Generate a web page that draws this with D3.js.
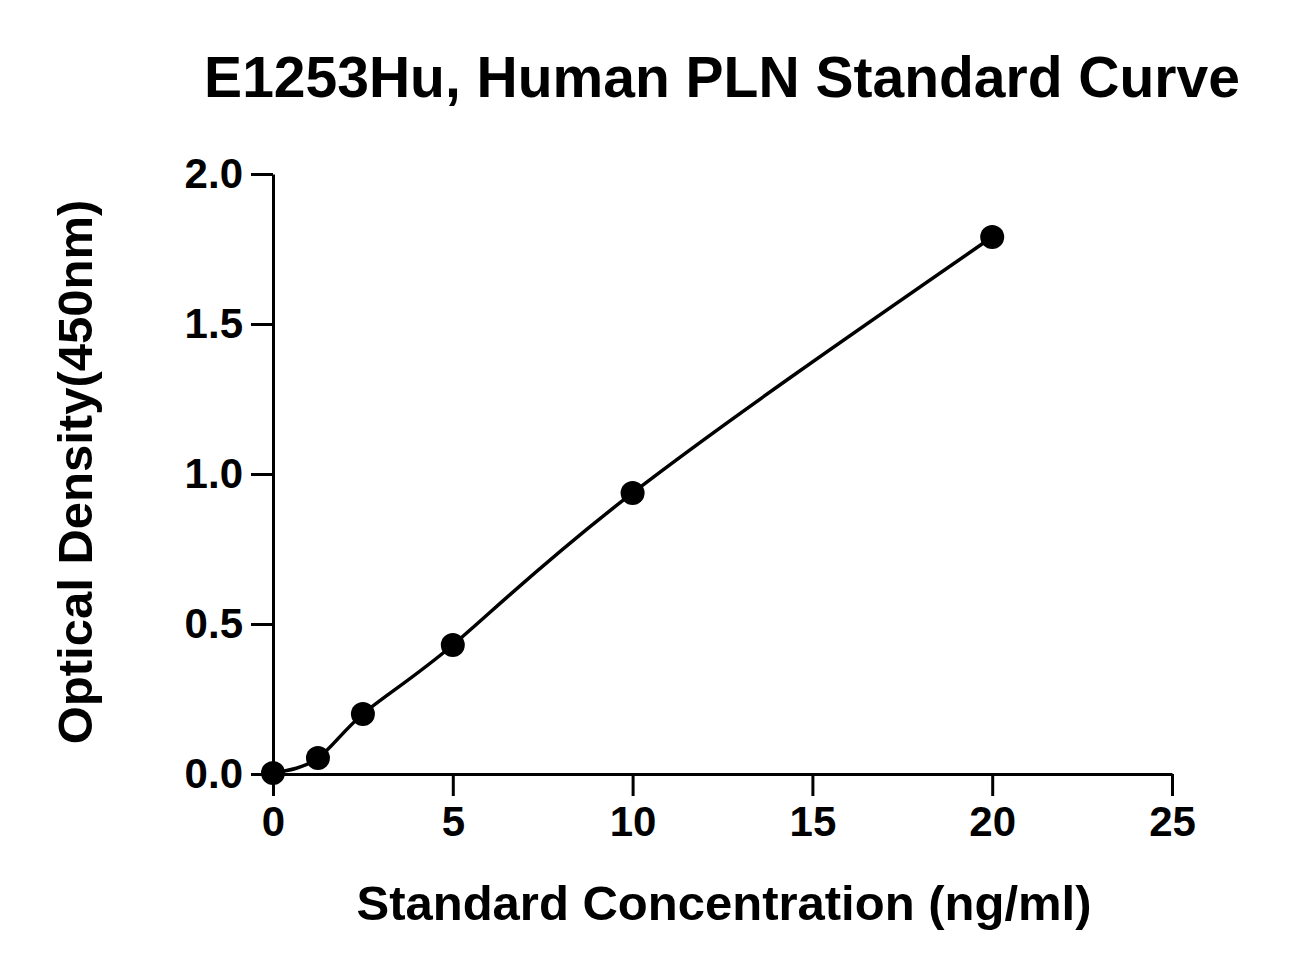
<!DOCTYPE html>
<html lang="en">
<head>
<meta charset="utf-8">
<script src="https://cdn.jsdelivr.net/npm/d3@7"></script>
<style>
body { margin: 0; background: #fff; }
text { font-family: "Liberation Sans", Arial, sans-serif; font-weight: bold; fill: #000; }
.axis path, .axis line { stroke: #000; stroke-width: 3px; }
.axis text { font-size: 42px; }
</style>
</head>
<body>
<script>
// standard concentrations (ng/ml) and measured OD
var conc = [0, 1.25, 2.5, 5, 10, 20];
var od = [0.003, 0.053, 0.2, 0.43, 0.937, 1.79];
var xTicks = [0, 5, 10, 15, 20, 25];
var yTicks = [0, 0.5, 1.0, 1.5, 2.0];

var W = 1311, H = 975;
var svg = d3.select("body").append("svg").attr("width", W).attr("height", H);

var x = d3.scaleLinear().domain([0, 25]).range([273, 1172]);
var y = d3.scaleLinear().domain([0, 2]).range([774, 174]);

svg.append("g").attr("class", "axis")
    .attr("transform", "translate(0,774)")
    .call(d3.axisBottom(x).tickValues(xTicks).tickSize(22).tickPadding(6).tickSizeOuter(0))
    .selectAll("text").attr("dy", "0.8em");

svg.append("g").attr("class", "axis")
    .attr("transform", "translate(273,0)")
    .call(d3.axisLeft(y).tickValues(yTicks).tickFormat(d3.format(".1f")).tickSize(22).tickPadding(8).tickSizeOuter(0));

var pts = conc.map(function(c, i) { return {c: c, v: od[i]}; });

svg.append("path")
    .attr("d", d3.line().x(function(d) { return x(d.c); }).y(function(d) { return y(d.v); })
        .curve(d3.curveNatural)(pts))
    .attr("fill", "none").attr("stroke", "#000").attr("stroke-width", 3.5);

svg.selectAll(".pt").data(pts).enter().append("circle")
    .attr("cx", function(d) { return x(d.c); })
    .attr("cy", function(d) { return y(d.v); })
    .attr("r", 12).attr("fill", "#000");

svg.append("text").attr("x", 722).attr("y", 97).attr("text-anchor", "middle")
    .style("font-size", "57px").text("E1253Hu, Human PLN Standard Curve");

svg.append("text").attr("x", 724).attr("y", 920).attr("text-anchor", "middle")
    .style("font-size", "49px").text("Standard Concentration (ng/ml)");

svg.append("text").attr("transform", "translate(92,472) rotate(-90)").attr("text-anchor", "middle")
    .style("font-size", "49px").text("Optical Density(450nm)");
</script>
</body>
</html>
